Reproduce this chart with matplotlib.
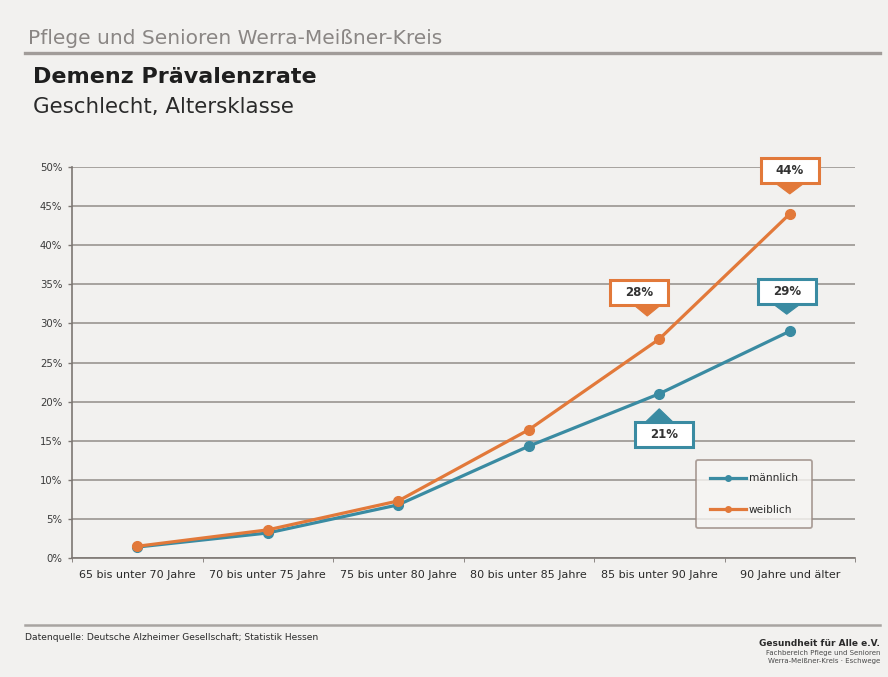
import matplotlib
matplotlib.use("Agg")
import matplotlib.pyplot as plt
from matplotlib.patches import Rectangle, Polygon
from matplotlib.transforms import Affine2D, ScaledTranslation
from matplotlib.lines import Line2D

# ---- data -------------------------------------------------------------
categories = [
    "65 bis unter 70 Jahre",
    "70 bis unter 75 Jahre",
    "75 bis unter 80 Jahre",
    "80 bis unter 85 Jahre",
    "85 bis unter 90 Jahre",
    "90 Jahre und älter",
]
maennlich = [1.4, 3.2, 6.8, 14.3, 21.0, 29.0]
weiblich = [1.5, 3.6, 7.3, 16.4, 28.0, 44.0]
series_names = ["männlich", "weiblich"]
y_ticks = [0, 5, 10, 15, 20, 25, 30, 35, 40, 45, 50]

# ---- styling ----------------------------------------------------------
BG = "#f2f1ef"
TEAL = "#3a8ba2"
ORANGE = "#e2793a"
GRID = "#928d89"
W, H = 888, 677

fig = plt.figure(figsize=(W / 100, H / 100), dpi=100, facecolor=BG)
ax = fig.add_axes([72 / W, 1 - 558 / H, (855 - 72) / W, (558 - 167) / H])
ax.set_facecolor(BG)

x = list(range(len(categories)))
ax.set_xlim(-0.5, len(categories) - 0.5)
ax.set_ylim(0, 50)

# horizontal grid every 5 %
for t in y_ticks:
    ax.axhline(t, color=GRID, lw=1.1, zorder=1)

for side in ("top", "right"):
    ax.spines[side].set_visible(False)
ax.spines["left"].set_color("#7d7773")
ax.spines["left"].set_linewidth(1.2)
ax.spines["bottom"].set_color("#7d7773")
ax.spines["bottom"].set_linewidth(1.2)

ax.set_yticks(y_ticks)
ax.set_yticklabels([f"{t}%" for t in y_ticks], fontsize=7.3, color="#3a3a3a")
ax.tick_params(axis="y", length=3, width=1, color="#7d7773", pad=4)

ax.set_xticks(x)
ax.set_xticklabels(categories, fontsize=8, color="#2a2a2a")
ax.tick_params(axis="x", length=0, pad=9)
ax.set_xticks([i - 0.5 for i in range(len(categories) + 1)], minor=True)
ax.tick_params(axis="x", which="minor", length=3, color="#7d7773")

# ---- series -----------------------------------------------------------
ax.plot(x, maennlich, color=TEAL, lw=2.3, marker="o", ms=7, zorder=3,
        label=series_names[0])
ax.plot(x, weiblich, color=ORANGE, lw=2.3, marker="o", ms=7, zorder=4,
        label=series_names[1])

# ---- value callouts ---------------------------------------------------
PX = 0.72  # points per pixel at 100 dpi


def anchor(xv, yv):
    """Transform: offsets in pixels, relative to a data point."""
    return Affine2D().scale(fig.dpi / 72 * PX) + ScaledTranslation(xv, yv, ax.transData)


def callout(idx, values, color, box_dx, box_dy, tip_dx, tip_dy, below=True):
    xv, yv = x[idx], values[idx]
    tr = anchor(xv, yv)
    bw, bh = 58, 25
    box = Rectangle((box_dx - bw / 2, box_dy - bh / 2), bw, bh, transform=tr,
                    facecolor="white", edgecolor=color, lw=2.2, zorder=6,
                    clip_on=False)
    ax.add_patch(box)
    half = 14
    if below:
        base_y = box_dy - bh / 2
    else:
        base_y = box_dy + bh / 2
    tri = Polygon([(tip_dx - half, base_y), (tip_dx + half, base_y), (tip_dx, tip_dy)],
                  closed=True, transform=tr, facecolor=color, edgecolor=color,
                  lw=0.8, zorder=5, clip_on=False)
    ax.add_patch(tri)
    ax.annotate(f"{values[idx]:.0f}%", xy=(xv, yv),
                xytext=(box_dx * PX, box_dy * PX), textcoords="offset points",
                ha="center", va="center", fontsize=8.5, fontweight="bold",
                color="#333333", zorder=7, annotation_clip=False)


callout(5, weiblich, ORANGE, 0, 43, 0, 20, below=True)
callout(4, weiblich, ORANGE, -20, 47, -12, 23, below=True)
callout(5, maennlich, TEAL, -3, 40, -3, 17, below=True)
callout(4, maennlich, TEAL, 5, -41, 0, -15, below=False)

# ---- legend -----------------------------------------------------------
handles = [
    Line2D([], [], color=TEAL, lw=2.3, marker="o", ms=4),
    Line2D([], [], color=ORANGE, lw=2.3, marker="o", ms=4),
]
leg = ax.legend(handles, series_names, loc="center",
                bbox_to_anchor=(754 / W, 1 - 494 / H), bbox_transform=fig.transFigure,
                fontsize=7.6, frameon=True, fancybox=True, borderpad=1.3,
                labelspacing=2.0, handlelength=3.4, handletextpad=0.3,
                borderaxespad=0)
leg.get_frame().set_edgecolor("#9b8b84")
leg.get_frame().set_linewidth(1.3)
leg.get_frame().set_facecolor("#f7f6f4")
leg.set_zorder(8)
for t in leg.get_texts():
    t.set_color("#2a2a2a")

# ---- header and footer --------------------------------------------------
fig.text(28 / W, 1 - 38 / H, "Pflege und Senioren Werra-Meißner-Kreis",
         fontsize=14.5, color="#8a8684", va="center", ha="left")
fig.add_artist(Line2D([25 / W, 880 / W], [1 - 53 / H, 1 - 53 / H],
                      color="#a19c99", lw=2.4, transform=fig.transFigure))
fig.text(33 / W, 1 - 77 / H, "Demenz Prävalenzrate", fontsize=16,
         fontweight="bold", color="#1e1e1e", va="center", ha="left")
fig.text(33 / W, 1 - 107 / H, "Geschlecht, Altersklasse", fontsize=15.4,
         color="#2a2a2a", va="center", ha="left")

fig.add_artist(Line2D([25 / W, 880 / W], [1 - 625 / H, 1 - 625 / H],
                      color="#a8a4a1", lw=1.8, transform=fig.transFigure))
fig.text(25 / W, 1 - 637 / H,
         "Datenquelle: Deutsche Alzheimer Gesellschaft; Statistik Hessen",
         fontsize=6.6, color="#2a2a2a", va="center", ha="left")
fig.text(880 / W, 1 - 644 / H, "Gesundheit für Alle e.V.", fontsize=6.5,
         fontweight="bold", color="#2a2a2a", va="center", ha="right")
fig.text(880 / W, 1 - 653 / H, "Fachbereich Pflege und Senioren",
         fontsize=5, color="#4a4a4a", va="center", ha="right")
fig.text(880 / W, 1 - 661 / H, "Werra-Meißner-Kreis · Eschwege",
         fontsize=5, color="#4a4a4a", va="center", ha="right")

fig.savefig("out.png", dpi=100, facecolor=BG)
